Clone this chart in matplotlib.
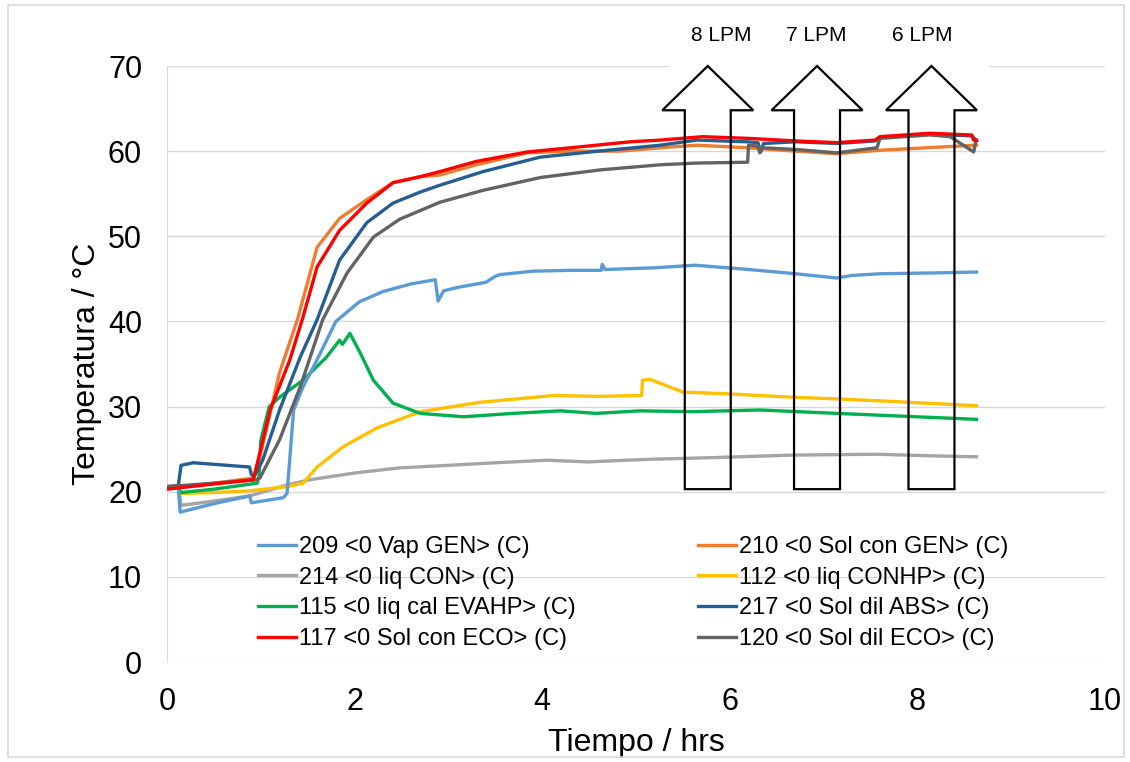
"""Temperature vs time for the absorption heat-pump test (8 series + flow-rate arrows)."""

import matplotlib.pyplot as plt
from matplotlib.patches import Polygon, Rectangle

plt.rcParams["font.family"] = ["Liberation Sans", "DejaVu Sans"]

# ---- data (hours, degC) ----
t_209 = [0, 0.12, 0.14, 0.5, 0.88, 0.9, 1.24, 1.28, 1.35, 1.45, 1.6, 1.8, 2.05, 2.3, 2.6, 2.86,
         2.89, 2.95, 3.1, 3.4, 3.5, 3.55, 3.9, 4.3, 4.63, 4.64, 4.67, 5.2, 5.63, 6.2, 6.7, 7.14,
         7.3, 7.6, 8.2, 8.63]
T_209 = [20.6, 20.6, 17.6, 18.6, 19.5, 18.7, 19.3, 19.8, 29.6, 32.3, 35.5, 40.0, 42.3, 43.5, 44.4,
         44.9, 42.4, 43.6, 44.0, 44.6, 45.3, 45.5, 45.9, 46.0, 46.0, 46.7, 46.1, 46.3, 46.6, 46.1,
         45.6, 45.1, 45.4, 45.6, 45.7, 45.8]

t_210 = [0, 0.5, 0.92, 1.0, 1.2, 1.39, 1.6, 1.84, 2.13, 2.41, 2.7, 2.91, 3.3, 3.84, 4.3, 4.83,
         5.26, 5.65, 6.18, 6.7, 7.14, 7.6, 8.1, 8.63]
T_210 = [20.4, 21.0, 21.6, 24.5, 34.0, 40.2, 48.7, 52.1, 54.3, 56.3, 57.0, 57.2, 58.4, 59.8, 60.0,
         60.0, 60.4, 60.7, 60.4, 60.0, 59.7, 60.1, 60.4, 60.7]

t_214 = [0, 0.12, 0.15, 0.5, 0.88, 1.28, 1.52, 2.0, 2.48, 3.0, 3.5, 4.05, 4.48, 5.12, 5.8, 6.67,
         7.57, 8.2, 8.63]
T_214 = [20.5, 20.5, 18.4, 18.9, 19.5, 20.8, 21.4, 22.2, 22.8, 23.1, 23.4, 23.7, 23.5, 23.8, 24.0,
         24.3, 24.4, 24.2, 24.1]

t_112 = [0, 0.12, 0.15, 0.5, 0.88, 1.28, 1.45, 1.6, 1.88, 2.24, 2.7, 3.34, 4.12, 4.6, 5.06, 5.07,
         5.15, 5.5, 5.97, 6.67, 7.14, 7.74, 8.63]
T_112 = [20.5, 20.5, 19.8, 19.9, 20.1, 20.6, 21.0, 22.9, 25.3, 27.5, 29.4, 30.5, 31.3, 31.2, 31.3,
         33.1, 33.2, 31.7, 31.5, 31.1, 30.9, 30.6, 30.1]

t_115 = [0, 0.12, 0.15, 0.5, 0.96, 0.98, 1.0, 1.09, 1.2, 1.45, 1.7, 1.84, 1.87, 1.95, 2.06, 2.2,
         2.41, 2.7, 3.16, 3.69, 4.19, 4.58, 5.04, 5.6, 6.32, 7.14, 8.63]
T_115 = [20.5, 20.5, 19.9, 20.3, 21.0, 21.7, 26.0, 30.0, 31.1, 33.1, 35.8, 37.8, 37.3, 38.6, 36.3,
         33.1, 30.4, 29.2, 28.8, 29.2, 29.5, 29.2, 29.5, 29.4, 29.6, 29.2, 28.5]

t_217 = [0, 0.12, 0.15, 0.28, 0.88, 0.9, 0.93, 1.02, 1.2, 1.42, 1.6, 1.84, 2.13, 2.41, 2.7, 2.91,
         3.37, 3.98, 4.6, 5.26, 5.65, 6.18, 6.3, 6.33, 6.36, 6.7, 7.14, 7.55, 7.6, 8.13, 8.58,
         8.63]
T_217 = [20.6, 20.7, 23.1, 23.4, 22.9, 22.0, 21.8, 23.7, 29.6, 35.8, 40.2, 47.2, 51.6, 53.9, 55.2,
         56.0, 57.6, 59.3, 60.0, 60.7, 61.3, 61.1, 61.0, 59.9, 60.9, 61.1, 60.9, 61.2, 61.6, 62.0,
         61.8, 61.2]

t_117 = [0, 0.5, 0.92, 1.1, 1.31, 1.45, 1.6, 1.84, 2.13, 2.41, 2.7, 2.91, 3.3, 3.84, 4.4, 4.94,
         5.26, 5.71, 6.2, 6.7, 7.14, 7.55, 7.6, 8.13, 8.58, 8.6, 8.63]
T_117 = [20.3, 20.9, 21.4, 29.6, 35.5, 40.5, 46.4, 50.7, 53.9, 56.3, 57.0, 57.6, 58.8, 59.9, 60.5,
         61.1, 61.3, 61.7, 61.5, 61.2, 61.0, 61.3, 61.7, 62.1, 61.9, 61.3, 61.3]

t_120 = [0, 0.5, 0.95, 0.99, 1.2, 1.42, 1.66, 1.92, 2.2, 2.48, 2.91, 3.37, 3.98, 4.62, 5.26, 5.65,
         6.19, 6.2, 6.3, 6.32, 6.34, 6.7, 7.14, 7.57, 7.6, 8.13, 8.35, 8.6, 8.62]
T_120 = [20.6, 21.0, 21.4, 21.6, 26.1, 32.3, 40.2, 45.7, 49.9, 52.0, 54.0, 55.4, 56.9, 57.8, 58.4,
         58.6, 58.7, 60.7, 60.6, 59.8, 60.4, 60.2, 59.8, 60.4, 61.5, 61.9, 61.7, 59.9, 61.0]

labels = {
    "209": "209 <0 Vap GEN> (C)",
    "210": "210 <0 Sol con GEN> (C)",
    "214": "214 <0 liq CON> (C)",
    "112": "112 <0 liq CONHP> (C)",
    "115": "115 <0 liq cal EVAHP> (C)",
    "217": "217 <0 Sol dil ABS> (C)",
    "117": "117 <0 Sol con ECO> (C)",
    "120": "120 <0 Sol dil ECO> (C)",
}
colors = {
    "209": "#5B9BD5", "210": "#ED7D31", "214": "#A5A5A5", "112": "#FFC000",
    "115": "#00B050", "217": "#255E91", "117": "#FF0000", "120": "#636363",
}

# flow-rate markers
flow_labels = ["8 LPM", "7 LPM", "6 LPM"]
arrow_x = [5.765, 6.93, 8.15]
label_x = [5.91, 6.92, 8.05]


def main():
    fig = plt.figure(figsize=(11.3, 7.62), dpi=100)
    fig.patches.append(Rectangle((8 / 1130, 5 / 762), 1116 / 1130, 752 / 762, transform=fig.transFigure,
                                 facecolor="none", edgecolor="#d9d9d9", linewidth=1.2))
    ax = fig.add_axes([167 / 1130, 100 / 762, 938 / 1130, 596 / 762])

    series = [
        ("214", t_214, T_214), ("112", t_112, T_112), ("115", t_115, T_115), ("209", t_209, T_209),
        ("210", t_210, T_210), ("217", t_217, T_217), ("120", t_120, T_120), ("117", t_117, T_117),
    ]
    handles = {}
    for key, t, T in series:
        (ln,) = ax.plot(t, T, color=colors[key], linewidth=2.4, label=labels[key],
                        solid_joinstyle="round", zorder=3)
        handles[key] = ln

    ax.set_xlim(0, 10)
    ax.set_ylim(0, 70)
    ax.set_xticks(range(0, 11, 2))
    ax.set_yticks(range(0, 71, 10))
    ax.grid(axis="y", color="#d9d9d9", linewidth=1.0)
    ax.set_axisbelow(True)
    for side in ("top", "right", "bottom"):
        ax.spines[side].set_visible(False)
    ax.spines["left"].set_color("#d9d9d9")
    ax.tick_params(length=0, labelsize=22, colors="#000000", pad=18)
    ax.set_xlabel("Tiempo / hrs", fontsize=23, labelpad=8)
    ax.set_ylabel("Temperatura / °C", fontsize=23, labelpad=4)

    # white box behind the flow labels hides the top gridline
    ax.add_patch(Rectangle((5.36, 69.2), 3.41, 7.5, facecolor="white", edgecolor="none",
                           clip_on=False, zorder=2.5))
    for cx, lx, txt in zip(arrow_x, label_x, flow_labels):
        pts = [(cx - 0.245, 20.3), (cx + 0.245, 20.3), (cx + 0.245, 64.8), (cx + 0.485, 64.8),
               (cx, 70.0), (cx - 0.485, 64.8), (cx - 0.245, 64.8)]
        ax.add_patch(Polygon(pts, closed=True, facecolor="none", edgecolor="black",
                             linewidth=1.6, clip_on=False, zorder=5))
        ax.text(lx, 73.6, txt, ha="center", va="center", fontsize=15, zorder=6, clip_on=False)

    leg_kw = dict(loc="upper left", frameon=False, fontsize=17, handlelength=1.6,
                  handletextpad=0.15, labelspacing=0.37, borderpad=0, borderaxespad=0)
    left = [handles[k] for k in ("209", "214", "115", "117")]
    right = [handles[k] for k in ("210", "112", "217", "120")]
    leg1 = ax.legend(left, [h.get_label() for h in left], bbox_to_anchor=(91 / 938, 126 / 596), **leg_kw)
    ax.add_artist(leg1)
    ax.legend(right, [h.get_label() for h in right], bbox_to_anchor=(531 / 938, 126 / 596), **leg_kw)

    fig.savefig("out.png", dpi=100)
    plt.close(fig)


if __name__ == "__main__":
    main()
